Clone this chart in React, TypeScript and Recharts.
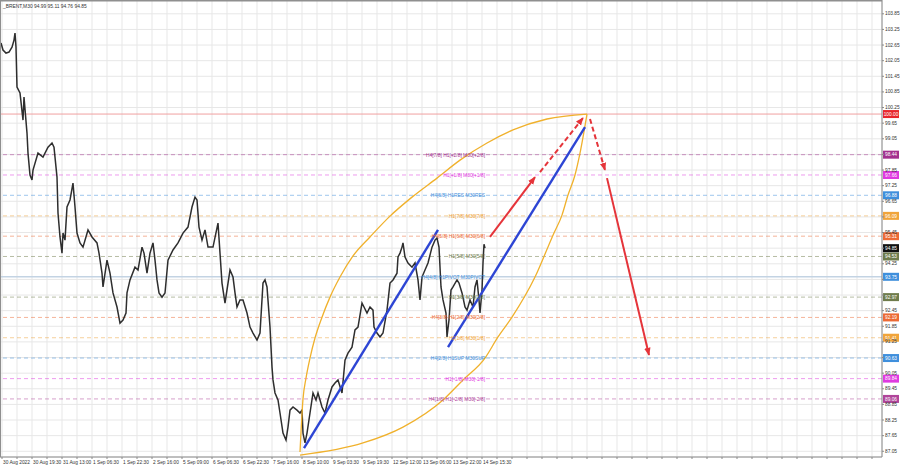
import React from 'react'
import {
  ComposedChart,
  Line,
  XAxis,
  YAxis,
  CartesianGrid,
  ReferenceLine,
  ReferenceDot,
} from 'recharts'

const FONT = '"Liberation Sans", Arial, sans-serif'

// bottom time labels, one every 30 bars
const timeLabels = [
  '30 Aug 2022', '30 Aug 19:30', '31 Aug 13:00', '1 Sep 06:30', '1 Sep 22:30', '2 Sep 16:00',
  '5 Sep 09:00', '6 Sep 06:30', '6 Sep 22:30', '7 Sep 16:00', '8 Sep 10:00', '9 Sep 03:30',
  '9 Sep 19:30', '12 Sep 12:00', '13 Sep 06:00', '13 Sep 22:00', '14 Sep 15:30',
]

const priceTicks = [
  103.85, 103.25, 102.65, 102.05, 101.45, 100.85, 100.25, 99.65, 99.05, 98.45,
  97.85, 97.25, 96.65, 96.05, 95.45, 94.85, 94.25, 93.65, 93.05, 92.45,
  91.85, 91.25, 90.65, 90.05, 89.45, 88.85, 88.25, 87.65, 87.05,
]

// BRENT M30 closes (bar index, price)
const priceBars = [
  -1, 1, 4, 7, 10, 12, 13, 14, 15, 18,
  21, 22, 25, 26, 28, 30, 31, 36, 41, 46,
  50, 52, 55, 56, 58, 60, 61, 63, 65, 68,
  71, 73, 75, 78, 81, 86, 90, 95, 97, 100,
  101, 105, 108, 111, 115, 118, 121, 124, 125, 128,
  133, 136, 140, 142, 145, 148, 151, 153, 155, 157,
  160, 163, 166, 171, 176, 181, 186, 190, 193, 195,
  197, 200, 203, 206, 211, 216, 220, 223, 228, 231,
  233, 235, 238, 241, 245, 248, 251, 255, 258, 261,
  263, 265, 268, 270, 271, 273, 276, 278, 281, 284,
  286, 288, 291, 295, 298, 300, 301, 303, 305, 308,
  311, 314, 316, 320, 323, 326, 330, 333, 336, 340,
  343, 346, 350, 353, 356, 360, 362, 365, 368, 371,
  372, 375, 378, 381, 385, 388, 391, 395, 396, 398,
  400, 401, 403, 406, 410, 413, 416, 418, 420, 423,
  426, 430, 433, 435, 437, 439, 441, 444, 445, 447,
  449, 451, 455, 457, 460, 463, 465, 468, 471, 473,
  475, 477, 478, 480, 481, 482, 483,
]
const priceCloses = [
  102.73, 102.46, 102.34, 102.38, 102.57, 102.84, 103.11, 102.57, 101.04, 100.81,
  99.77, 100.65, 99.27, 98.5, 97.66, 97.47, 97.85, 98.5, 98.35, 98.73,
  98.89, 98.73, 97.58, 96.2, 95.28, 94.66, 95.43, 95.16, 96.43, 96.7,
  97.35, 96.43, 95.43, 95.05, 94.89, 95.55, 95.28, 95.05, 94.66, 93.89,
  93.36, 94.39, 93.89, 93.13, 92.59, 91.97, 92.09, 92.36, 93.13, 93.63,
  94.12, 94.01, 94.89, 94.66, 93.89, 94.66, 95.05, 94.39, 93.63, 93.13,
  92.97, 93.13, 94.39, 94.78, 95.05, 95.43, 95.66, 96.43, 96.81, 96.7,
  95.66, 95.16, 95.55, 94.89, 94.89, 95.81, 93.51, 92.74, 94.01, 93.74,
  93.13, 92.59, 92.86, 92.86, 92.36, 91.82, 91.59, 91.32, 91.59, 93.51,
  93.63, 93.36, 91.82, 90.28, 89.79, 89.29, 89.02, 88.52, 87.75, 87.48,
  87.98, 88.63, 88.75, 88.63, 88.52, 88.63, 87.75, 87.37, 87.75, 88.52,
  89.29, 89.02, 89.29, 88.75, 88.52, 89.02, 89.52, 89.67, 89.79, 89.29,
  90.55, 90.82, 91.05, 91.71, 91.82, 92.74, 92.59, 92.36, 92.59, 92.47,
  91.82, 91.59, 91.44, 91.59, 92.47, 93.51, 93.63, 93.89, 94.51, 94.66,
  94.89, 95.05, 94.51, 94.28, 94.12, 94.28, 93.63, 92.86, 93.74, 94.01,
  94.28, 94.89, 95.16, 95.24, 94.89, 93.36, 92.86, 92.36, 91.44, 92.09,
  93.24, 93.36, 93.63, 93.51, 93.13, 92.59, 92.47, 92.86, 92.59, 93.36,
  93.63, 92.86, 92.36, 93.24, 94.28, 95.0, 94.85,
]
const lastPrice = 94.85
const targetPrice = 100.0

// murrey math levels
const levelPrices = [98.44, 97.66, 96.88, 96.09, 95.31, 94.53, 93.75, 92.97, 92.19, 91.41, 90.63, 89.84, 89.06]
const levelNames = [
  'H4[7/8] H1[+2/8] M30[+2/8]', 'H1[+1/8] M30[+1/8]', 'H4[6/8] H1RES M30RES', 'H1[7/8] M30[7/8]',
  'H4[5/8] H1[6/8] M30[6/8]', 'H1[5/8] M30[5/8]', 'H4[4/8] H1PIVOT M30PIVOT', 'H1[3/8] M30[3/8]',
  'H4[3/8] H1[2/8] M30[2/8]', 'H1[1/8] M30[1/8]', 'H4[2/8] H1SUP M30SUP', 'H1[-1/8] M30[-1/8]',
  'H4[1/8] H1[-2/8] M30[-2/8]',
]
const levelColors = [
  '#a3318f', '#df3ae0', '#3f8fdc', '#f0a43a', '#ec6a34', '#6f7c4c', '#3f8fdc',
  '#6f7c4c', '#ec6a34', '#f0a43a', '#3f8fdc', '#df3ae0', '#b0449a',
]

// drawn objects: arcs, channel, projection arrows
const upperArcBars = [298, 301, 304, 308, 313, 320, 328, 338, 351, 368, 388, 410, 435, 458, 485, 511, 545, 585]
const upperArcPrices = [87.02, 89.06, 89.86, 90.63, 91.4, 92.2, 92.97, 93.74, 94.55, 95.28, 96.08, 96.81, 97.54, 98.23, 98.89, 99.39, 99.81, 100.0]
const lowerArcBars = [298, 361, 401, 441, 461, 483, 496, 510, 533, 551, 560, 566, 573, 578, 585]
const lowerArcPrices = [86.9, 87.37, 87.98, 89.02, 89.79, 90.63, 91.44, 92.2, 93.74, 95.35, 96.12, 96.89, 97.66, 98.5, 100.0]
const channelABars = [302, 436]
const channelAPrices = [87.17, 95.55]
const channelBBars = [446, 583]
const channelBPrices = [91.05, 99.5]
const arrowUpBars = [488, 533]
const arrowUpPrices = [95.28, 97.58]
const arrowUpDashBars = [538, 581]
const arrowUpDashPrices = [97.77, 99.85]
const arrowDownDashBars = [588, 603]
const arrowDownDashPrices = [99.81, 97.85]
const arrowDownBars = [605, 647]
const arrowDownPrices = [97.54, 90.75]

const pairs = (bars: number[], prices: number[]) => bars.map((bar, i) => ({ bar, price: prices[i] }))

const priceData = pairs(priceBars, priceCloses)
const xTicks = Array.from({ length: 59 }, (_, i) => i * 15)
const boxPrices = [targetPrice, lastPrice, ...levelPrices]
const levelTextBar = 483

function TimeTick(props: any) {
  const { x, y, payload } = props
  const i = payload.value / 30
  if (!Number.isInteger(i) || i >= timeLabels.length) return <g />
  return (
    <text x={x + 1} y={y + 3.5} fontSize={4.8} fill="#333" fontFamily={FONT} dominantBaseline="central">
      {timeLabels[i]}
    </text>
  )
}

function PriceTick(props: any) {
  const { x, y, payload } = props
  const v = payload.value
  if (boxPrices.some((p) => Math.abs(p - v) < 0.11)) return <g />
  return (
    <text x={x + 1} y={y} fontSize={4.8} fill="#333" fontFamily={FONT} dominantBaseline="central">
      {v.toFixed(2)}
    </text>
  )
}

function AxisBox(props: any) {
  const { viewBox, value, fill } = props
  if (!viewBox) return null
  const x = viewBox.x + viewBox.width + 1
  return (
    <g>
      <rect x={x} y={viewBox.y - 4} width={16} height={8} fill={fill} />
      <text x={x + 8} y={viewBox.y + 0.3} textAnchor="middle" dominantBaseline="central" fontSize={4.8} fill="#fff" fontFamily={FONT}>
        {value.toFixed(2)}
      </text>
    </g>
  )
}

const lineBase = { dataKey: 'price', dot: false, activeDot: false, isAnimationActive: false } as const

export default function App() {
  return (
    <div style={{ position: 'relative', width: 900, height: 468, background: '#fff' }}>
      <style>{'body{margin:0}'}</style>
      <svg width={0} height={0} style={{ position: 'absolute' }}>
        <defs>
          <marker id="redHead" viewBox="0 0 10 10" refX="9" refY="5" markerWidth="8" markerHeight="8" markerUnits="userSpaceOnUse" orient="auto">
            <path d="M0,1 L10,5 L0,9 z" fill="#e5343a" />
          </marker>
        </defs>
      </svg>
      <ComposedChart width={900} height={468} data={priceData} margin={{ top: 0, right: 0, bottom: 0, left: 0 }}>
        <CartesianGrid stroke="#e7e7e7" />
        <XAxis
          dataKey="bar"
          type="number"
          domain={[-2, 880]}
          ticks={xTicks}
          interval={0}
          height={11}
          tickSize={2}
          tickMargin={0}
          tick={<TimeTick />}
          axisLine={{ stroke: '#8a8a8a' }}
          tickLine={{ stroke: '#8a8a8a' }}
          allowDataOverflow
        />
        <YAxis
          orientation="right"
          type="number"
          domain={[86.83, 104.38]}
          ticks={priceTicks}
          interval={0}
          width={18}
          tickSize={2}
          tickMargin={0}
          tick={<PriceTick />}
          axisLine={{ stroke: '#8a8a8a' }}
          tickLine={{ stroke: '#8a8a8a' }}
          allowDataOverflow
        />
        <ReferenceLine y={targetPrice} stroke="#f0a0a0" label={<AxisBox value={targetPrice} fill="#e8262c" />} />
        {levelPrices.map((p, i) => (
          <ReferenceLine
            key={p}
            y={p}
            stroke={i === 6 ? '#c3d3e3' : levelColors[i]}
            strokeOpacity={i === 6 ? 1 : 0.5}
            strokeWidth={i === 6 ? 1.5 : 1}
            strokeDasharray={i === 6 ? undefined : '4 3'}
            label={<AxisBox value={p} fill={levelColors[i]} />}
          />
        ))}
        <ReferenceLine y={lastPrice} stroke="none" label={<AxisBox value={lastPrice} fill="#111" />} />
        <Line {...lineBase} type="linear" stroke="#2e2e2e" strokeWidth={1.5} />
        <Line {...lineBase} data={pairs(upperArcBars, upperArcPrices)} type="monotone" stroke="#f0b12c" strokeWidth={1.3} />
        <Line {...lineBase} data={pairs(lowerArcBars, lowerArcPrices)} type="monotone" stroke="#f0b12c" strokeWidth={1.3} />
        <Line {...lineBase} data={pairs(channelABars, channelAPrices)} type="linear" stroke="#2d45d4" strokeWidth={2.4} />
        <Line {...lineBase} data={pairs(channelBBars, channelBPrices)} type="linear" stroke="#2d45d4" strokeWidth={2.4} />
        <Line {...lineBase} data={pairs(arrowUpBars, arrowUpPrices)} type="linear" stroke="#e5343a" strokeWidth={2} markerEnd="url(#redHead)" />
        <Line {...lineBase} data={pairs(arrowUpDashBars, arrowUpDashPrices)} type="linear" stroke="#e5343a" strokeWidth={2} strokeDasharray="5 3" markerEnd="url(#redHead)" />
        <Line {...lineBase} data={pairs(arrowDownDashBars, arrowDownDashPrices)} type="linear" stroke="#e5343a" strokeWidth={2} strokeDasharray="5 3" markerEnd="url(#redHead)" />
        <Line {...lineBase} data={pairs(arrowDownBars, arrowDownPrices)} type="linear" stroke="#e5343a" strokeWidth={2} markerEnd="url(#redHead)" />
        {levelPrices.map((p, i) => (
          <ReferenceDot
            key={'t' + p}
            x={levelTextBar}
            y={p}
            r={1}
            ifOverflow="visible"
            shape={(s: any) => (
              <text x={s.cx} y={s.cy + 0.5} textAnchor="end" dominantBaseline="central" fontSize={4.9} fill={levelColors[i]} fontFamily={FONT}>
                {levelNames[i]}
              </text>
            )}
          />
        ))}
      </ComposedChart>
      <svg width={900} height={468} style={{ position: 'absolute', left: 0, top: 0, pointerEvents: 'none' }}>
        <line x1={0} y1={0.75} x2={882} y2={0.75} stroke="#8f8f8f" strokeWidth={1.5} />
        <line x1={0.5} y1={0} x2={0.5} y2={457} stroke="#8f8f8f" strokeWidth={1} />
        <text x={3} y={6} fontSize={4.9} fill="#333" fontFamily={FONT} dominantBaseline="central">
          _BRENT,M30  94.99 95.11 94.76 94.85
        </text>
      </svg>
    </div>
  )
}
